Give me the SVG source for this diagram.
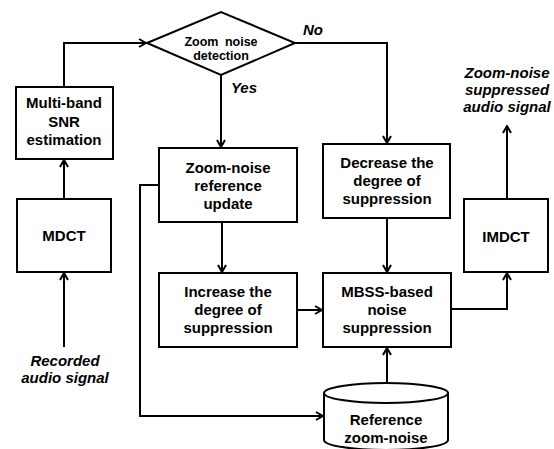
<svg xmlns="http://www.w3.org/2000/svg" width="554" height="449" viewBox="0 0 554 449">
<defs>
<marker id="arr" viewBox="0 0 10 10" refX="9" refY="5" markerWidth="10" markerHeight="10" markerUnits="userSpaceOnUse" orient="auto">
<path d="M2,1 L9,5 L2,9" fill="none" stroke="#000" stroke-width="2"/>
</marker>
<style>
.box{fill:#fff;stroke:#000;stroke-width:2}
.t{font-family:"Liberation Sans",Arial,sans-serif;font-weight:bold;font-size:15px;text-anchor:middle;fill:#000}
.i{font-family:"Liberation Sans",Arial,sans-serif;font-weight:bold;font-style:italic;font-size:15px;text-anchor:middle;fill:#000}
.c{fill:none;stroke:#000;stroke-width:2;marker-end:url(#arr)}
</style>
</defs>
<rect width="554" height="449" fill="#fff"/>
<g id="connectors">
<polyline class="c" points="64,87 64,43 146,43"/>
<line class="c" x1="64" y1="199" x2="64" y2="160"/>
<line class="c" x1="64" y1="347" x2="64" y2="273"/>
<line class="c" x1="221" y1="75" x2="221" y2="147"/>
<polyline class="c" points="295,43 387,43 387,143"/>
<line class="c" x1="222" y1="222" x2="222" y2="272"/>
<polyline class="c" points="158,185 140,185 140,416 323,416"/>
<line class="c" x1="387" y1="218" x2="387" y2="272"/>
<line class="c" x1="297" y1="310" x2="322" y2="310"/>
<line class="c" x1="387" y1="383" x2="387" y2="348"/>
<polyline class="c" points="451,309 507,309 507,273"/>
<line class="c" x1="507" y1="199" x2="507" y2="126"/>
</g>
<g id="diamond">
<polygon class="box" points="147,43 221,12 295,43 221,75"/>
<text class="t" style="font-size:12.5px;word-spacing:3px" x="221" y="46">Zoom noise</text>
<text class="t" style="font-size:12.5px" x="221" y="60">detection</text>
</g>
<text class="i" x="244" y="93">Yes</text>
<text class="i" x="313" y="35">No</text>
<g id="snr">
<rect class="box" x="16" y="87" width="97" height="72"/>
<text class="t" x="64" y="108">Multi-band</text>
<text class="t" x="64" y="127">SNR</text>
<text class="t" x="64" y="145">estimation</text>
</g>
<g id="mdct">
<rect class="box" x="17" y="199" width="94" height="73"/>
<text class="t" x="64" y="241">MDCT</text>
</g>
<text class="i" x="65" y="366">Recorded</text>
<text class="i" x="65" y="383">audio signal</text>
<g id="refupdate">
<rect class="box" x="159" y="148" width="138" height="74"/>
<text class="t" x="228" y="173">Zoom-noise</text>
<text class="t" x="228" y="191">reference</text>
<text class="t" x="228" y="209">update</text>
</g>
<g id="increase">
<rect class="box" x="159" y="273" width="138" height="74"/>
<text class="t" x="228" y="297">Increase the</text>
<text class="t" x="228" y="315">degree of</text>
<text class="t" x="228" y="333">suppression</text>
</g>
<g id="decrease">
<rect class="box" x="323" y="144" width="127" height="74"/>
<text class="t" x="387" y="168">Decrease the</text>
<text class="t" x="387" y="186">degree of</text>
<text class="t" x="387" y="204">suppression</text>
</g>
<g id="mbss">
<rect class="box" x="323" y="273" width="128" height="74"/>
<text class="t" x="387" y="297">MBSS-based</text>
<text class="t" x="387" y="315">noise</text>
<text class="t" x="387" y="333">suppression</text>
</g>
<g id="imdct">
<rect class="box" x="464" y="199" width="84" height="73"/>
<text class="t" x="506" y="242">IMDCT</text>
</g>
<text class="i" x="507" y="78">Zoom-noise</text>
<text class="i" x="507" y="95">suppressed</text>
<text class="i" x="507" y="112">audio signal</text>
<g id="refnoise">
<path class="box" d="M324,393 L324,440 A62,10 0 0 0 448,440 L448,393"/>
<ellipse class="box" cx="386" cy="393" rx="62" ry="10"/>
<text class="t" x="386" y="425">Reference</text>
<text class="t" x="386" y="443">zoom-noise</text>
</g>
</svg>
